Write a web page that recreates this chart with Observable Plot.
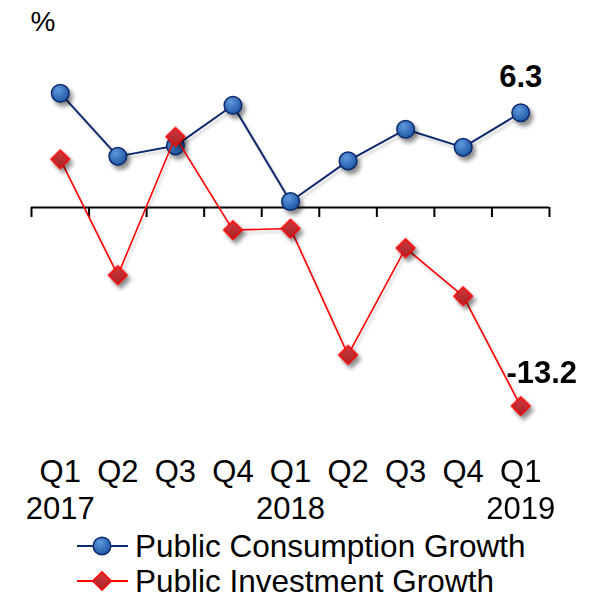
<!DOCTYPE html>
<html><head><meta charset="utf-8">
<script src="https://cdn.jsdelivr.net/npm/d3@7"></script>
<script src="https://cdn.jsdelivr.net/npm/@observablehq/plot@0.6"></script>
<style>
body{margin:0;background:#fff;font-family:"Liberation Sans",Arial,sans-serif;overflow:hidden}
#chart{height:528px;overflow:visible}
#chart svg{display:block}
#legend{position:relative}
#legend .row{font-size:31.5px;line-height:36px;color:#000;padding-left:77px;white-space:nowrap}
#legend .row svg{vertical-align:1.5px;margin-right:7px;overflow:visible}
</style></head><body>
<div id="chart"></div>
<div id="legend"></div>
<script>
const quarters = ["Q1","Q2","Q3","Q4","Q1","Q2","Q3","Q4","Q1"];
const years = ["2017","","","","2018","","","","2019"];
const consumption = [7.6, 3.4, 4.1, 6.8, 0.4, 3.1, 5.2, 4.0, 6.3];
const investment = [3.2, -4.5, 4.7, -1.5, -1.4, -9.8, -2.7, -5.9, -13.2];
const seriesNames = ["Public Consumption Growth", "Public Investment Growth"];
const unitLabel = "%";

const rows = quarters.map((q, i) => ({i, q, yr: years[i], c: consumption[i], v: investment[i]}));
const bounds = quarters.map((q, i) => i - 0.5).concat([quarters.length - 0.5]);
const last = rows[rows.length - 1];

const navy = "#0E2A6E", red = "#FF0000";
const H = 528;
const zeroY = 207, unit = 15.04, yMax = 11, yMin = -14;
const marginTop = zeroY - yMax * unit;
const marginBottom = H - (zeroY - yMin * unit);

const chart = Plot.plot({
  width: 593,
  height: H,
  marginLeft: 31,
  marginRight: 44,
  marginTop,
  marginBottom,
  style: {fontFamily: '"Liberation Sans", Arial, sans-serif', background: "#fff", color: "#000", overflow: "visible"},
  x: {domain: [-0.5, quarters.length - 0.5], axis: null},
  y: {domain: [yMin, yMax], axis: null},
  marks: [
    Plot.ruleY([0], {stroke: "#000", strokeWidth: 2}),
    Plot.ruleX(bounds, {x: d => d, y1: 0, y2: 0, insetBottom: -10, stroke: "#000", strokeWidth: 2}),
    Plot.line(rows, {x: "i", y: "c", stroke: navy, strokeWidth: 2}),
    Plot.dot(rows, {x: "i", y: "c", r: 8.8, fill: "url(#gBlue)", stroke: navy, strokeWidth: 1.5}),
    Plot.line(rows, {x: "i", y: "v", stroke: red, strokeWidth: 1.6}),
    Plot.dot(rows, {x: "i", y: "v", r: 8.4, symbol: "diamond2", fill: "url(#gRed)", stroke: red, strokeWidth: 1.5}),
    Plot.text([last], {x: "i", y: "c", text: d => String(d.c), fontSize: 31, fontWeight: "bold", lineAnchor: "top", dy: -48, fill: "#000"}),
    Plot.text([last], {x: "i", y: "v", text: d => String(d.v), fontSize: 31, fontWeight: "bold", lineAnchor: "top", dx: 21, dy: -45, fill: "#000"}),
    Plot.text(rows, {x: "i", text: "q", frameAnchor: "bottom", lineAnchor: "top", dy: 42, fontSize: 31, fill: "#000"}),
    Plot.text(rows, {x: "i", text: "yr", frameAnchor: "bottom", lineAnchor: "top", dy: 79, fontSize: 31, fill: "#000"}),
    Plot.text([unitLabel], {text: d => d, frameAnchor: "top-left", lineAnchor: "top", dx: -1, dy: 11 - marginTop, fontSize: 28, fill: "#000"})
  ]
});

const ns = "http://www.w3.org/2000/svg";
const defs = document.createElementNS(ns, "defs");
defs.innerHTML = `
<radialGradient id="gBlue" cx="38%" cy="32%" r="70%">
  <stop offset="0" stop-color="#5E98DC"/><stop offset="1" stop-color="#1E56A4"/>
</radialGradient>
<linearGradient id="gRed" x1="0" y1="0" x2="0" y2="1">
  <stop offset="0" stop-color="#D03A3E"/><stop offset="1" stop-color="#A82329"/>
</linearGradient>`;
chart.insertBefore(defs, chart.firstChild);
chart.querySelectorAll('g[aria-label="dot"]').forEach(g => g.style.filter = "drop-shadow(3px 4px 2px rgba(0,0,0,0.45))");
chart.querySelectorAll('g[aria-label="line"]').forEach(g => g.style.filter = "drop-shadow(2px 3px 1.5px rgba(0,0,0,0.2))");
document.getElementById("chart").appendChild(chart);

const legend = document.getElementById("legend");
const styles = [
  {stroke: navy, marker: `<circle cx="25" cy="10" r="8.8" fill="url(#gBlue)" stroke="${navy}" stroke-width="1.5"/>`},
  {stroke: red, marker: `<path d="M25,0.8 L34.2,10 L25,19.2 L15.8,10 Z" fill="url(#gRed)" stroke="${red}" stroke-width="1.5"/>`}
];
const rowHeights = [35.4, 36];
seriesNames.forEach((name, k) => {
  const row = document.createElement("div");
  row.className = "row";
  row.style.height = rowHeights[k] + "px";
  row.innerHTML = `<svg width="51" height="20" viewBox="0 0 51 20"><line x1="0" x2="51" y1="10" y2="10" stroke="${styles[k].stroke}" stroke-width="2"/>${styles[k].marker}</svg><span></span>`;
  row.querySelector("span").textContent = name;
  legend.appendChild(row);
});
</script>
</body></html>
